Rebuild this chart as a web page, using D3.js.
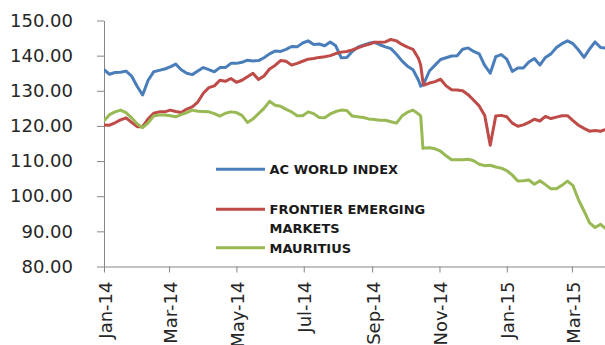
<!DOCTYPE html>
<html>
<head>
<meta charset="utf-8">
<script src="https://cdn.jsdelivr.net/npm/d3@7/dist/d3.min.js"></script>
<style>
  html, body { margin: 0; padding: 0; background: #ffffff; }
  svg { display: block; }
</style>
</head>
<body>
<svg id="chart" width="605" height="345"></svg>
<script>
// Index levels, sampled through the period
const dates = [
  "2014-01-01","2014-01-06","2014-01-11","2014-01-16","2014-01-21","2014-01-26","2014-01-31","2014-02-05","2014-02-10","2014-02-15",
  "2014-02-20","2014-02-25","2014-03-02","2014-03-07","2014-03-12","2014-03-17","2014-03-22","2014-03-27","2014-04-01","2014-04-06",
  "2014-04-11","2014-04-16","2014-04-21","2014-04-26","2014-05-01","2014-05-06","2014-05-11","2014-05-16","2014-05-21","2014-05-26",
  "2014-05-31","2014-06-05","2014-06-10","2014-06-15","2014-06-20","2014-06-25","2014-06-30","2014-07-05","2014-07-10","2014-07-15",
  "2014-07-20","2014-07-25","2014-07-30","2014-08-04","2014-08-09","2014-08-14","2014-08-19","2014-08-24","2014-08-29","2014-09-03",
  "2014-09-08","2014-09-13","2014-09-18","2014-09-23","2014-09-28","2014-10-03","2014-10-08","2014-10-13",
  "2014-10-15","2014-10-17",
  "2014-10-18","2014-10-23","2014-10-28","2014-11-02","2014-11-07","2014-11-12","2014-11-17","2014-11-22","2014-11-27","2014-12-02",
  "2014-12-07","2014-12-12","2014-12-17","2014-12-22","2014-12-27","2015-01-01","2015-01-06","2015-01-11","2015-01-16","2015-01-21",
  "2015-01-26","2015-01-31","2015-02-05","2015-02-10","2015-02-15","2015-02-20","2015-02-25","2015-03-02","2015-03-07","2015-03-12",
  "2015-03-17","2015-03-22","2015-03-27","2015-03-31"
];

const acWorld = [
  136.0,134.7,135.2,135.3,135.6,134.2,131.3,128.8,133.0,135.4,
  135.8,136.2,136.8,137.6,136.0,135.0,134.6,135.6,136.6,136.0,
  135.4,136.6,136.6,137.8,137.8,138.1,138.7,138.5,138.6,139.4,
  140.5,141.3,141.2,141.8,142.6,142.5,143.6,144.2,143.2,143.3,
  142.8,143.9,142.8,139.4,139.5,141.2,142.4,143.0,143.5,143.8,
  143.1,142.5,142.0,140.4,138.5,137.0,136.0,133.0,
  131.3,131.8,
  132.2,135.7,137.3,138.9,139.4,139.9,140.0,141.8,142.2,141.2,
  140.5,137.2,135.0,139.7,140.3,139.0,135.5,136.5,136.5,138.2,
  139.2,137.3,139.5,140.5,142.3,143.4,144.2,143.4,141.6,139.5,
  141.9,143.9,142.3,142.2
];

const frontierEmerging = [
  120.3,120.2,120.9,121.7,122.3,121.0,119.8,119.8,122.0,123.6,
  124.0,124.0,124.5,124.1,123.8,124.8,125.4,126.8,129.3,130.9,
  131.4,133.0,132.7,133.5,132.4,133.0,134.0,135.0,133.2,134.2,
  136.2,137.2,138.6,138.4,137.3,137.8,138.4,139.0,139.2,139.5,
  139.7,140.0,140.6,141.0,141.2,141.6,142.2,142.8,143.2,143.8,
  143.8,143.9,144.6,144.2,143.2,142.4,141.8,139.2,
  137.3,132.5,
  131.6,132.2,132.6,133.3,131.4,130.3,130.2,130.0,128.9,127.3,
  125.7,123.0,114.5,122.8,123.0,122.6,120.8,119.9,120.3,121.0,
  121.9,121.4,122.7,122.1,122.5,122.9,122.9,121.5,120.2,119.3,
  118.5,118.7,118.5,118.9
];

const mauritius = [
  121.5,123.2,124.0,124.5,123.8,122.3,120.6,119.5,120.9,122.8,
  123.1,123.1,122.9,122.6,123.2,123.8,124.5,124.2,124.1,124.0,
  123.5,122.8,123.6,124.0,123.8,123.0,121.0,122.0,123.5,125.0,
  127.0,125.9,125.6,124.7,124.0,122.9,122.9,124.0,123.5,122.4,
  122.3,123.4,124.1,124.5,124.4,122.8,122.6,122.4,122.0,121.8,
  121.6,121.6,121.2,120.8,122.8,123.9,124.5,123.4,
  122.8,113.6,
  113.7,113.8,113.5,112.8,111.5,110.4,110.4,110.4,110.5,110.1,
  109.1,108.7,108.8,108.3,108.0,107.3,106.0,104.3,104.4,104.6,
  103.4,104.4,103.3,102.1,102.1,103.1,104.3,103.0,99.0,95.8,
  92.4,91.1,92.0,90.9
];

const seriesNames = ["AC WORLD INDEX", "FRONTIER EMERGING MARKETS", "MAURITIUS"];
const seriesColors = ["#4a7ebb", "#be4b48", "#98b954"];

const yTicks = [80, 90, 100, 110, 120, 130, 140, 150];
const xTicks = ["2014-01-01","2014-03-01","2014-05-01","2014-07-01","2014-09-01","2014-11-01","2015-01-01","2015-03-01"];
const xDomain = ["2014-01-01", "2015-03-31"];

const parse = d3.timeParse("%Y-%m-%d");
const svg = d3.select("#chart");
const font = "'DejaVu Sans', Verdana, sans-serif";

const plotLeft = 104, plotRight = 605, plotTop = 20.5, plotBottom = 266.5;

const x = d3.scaleTime().domain(xDomain.map(parse)).range([plotLeft, plotRight]);
const y = d3.scaleLinear().domain([80, 150]).range([plotBottom, plotTop]);

// Y axis
const yAxis = svg.append("g")
  .attr("transform", `translate(${plotLeft},0)`)
  .call(d3.axisLeft(y).tickValues(yTicks).tickFormat(d3.format(".2f")).tickSize(7).tickSizeOuter(0).tickPadding(24));
yAxis.select(".domain").attr("stroke", "#868686");
yAxis.selectAll(".tick line").attr("stroke", "#868686");
yAxis.selectAll("text")
  .attr("font-family", font).attr("font-size", 18).attr("fill", "#262626");

// X axis
const xAxis = svg.append("g")
  .attr("transform", `translate(0,${plotBottom})`)
  .call(d3.axisBottom(x).tickValues(xTicks.map(parse)).tickFormat(d3.timeFormat("%b-%y")).tickSize(6).tickSizeOuter(0));
xAxis.select(".domain").attr("stroke", "#868686");
xAxis.selectAll(".tick line").attr("stroke", "#868686");
xAxis.selectAll("text")
  .attr("font-family", font).attr("font-size", 18).attr("fill", "#262626")
  .attr("transform", "rotate(-90)")
  .attr("text-anchor", "end")
  .attr("x", -15).attr("y", 0).attr("dy", "0.4em");

// Series lines
const series = [acWorld, frontierEmerging, mauritius];
const line = d3.line()
  .x((d, i) => x(parse(dates[i])))
  .y(d => y(d));

svg.append("defs").append("clipPath").attr("id", "plot")
  .append("rect").attr("x", plotLeft).attr("y", 0).attr("width", plotRight - plotLeft).attr("height", plotBottom);

const plot = svg.append("g").attr("clip-path", "url(#plot)");
series.forEach((vals, k) => {
  plot.append("path")
    .datum(vals)
    .attr("d", line)
    .attr("fill", "none")
    .attr("stroke", seriesColors[k])
    .attr("stroke-width", 3)
    .attr("stroke-linejoin", "round")
    .attr("stroke-linecap", "round");
});

// Legend
const legendRows = [
  { lineY: 169.3, lines: ["AC WORLD INDEX"], baseline: 173.5 },
  { lineY: 209.3, lines: ["FRONTIER EMERGING", "MARKETS"], baseline: 214 },
  { lineY: 247.7, lines: ["MAURITIUS"], baseline: 252.7 }
];
const legend = svg.append("g");
legendRows.forEach((row, k) => {
  legend.append("line")
    .attr("x1", 216).attr("x2", 265)
    .attr("y1", row.lineY).attr("y2", row.lineY)
    .attr("stroke", seriesColors[k]).attr("stroke-width", 3);
  const t = legend.append("text")
    .attr("x", 269.5).attr("y", row.baseline)
    .attr("font-family", font).attr("font-size", 13).attr("font-weight", "bold")
    .attr("fill", "#1a1a1a");
  row.lines.forEach((s, j) => {
    t.append("tspan").attr("x", 269.5).attr("dy", j === 0 ? 0 : 18.7).text(s);
  });
});
</script>
</body>
</html>
